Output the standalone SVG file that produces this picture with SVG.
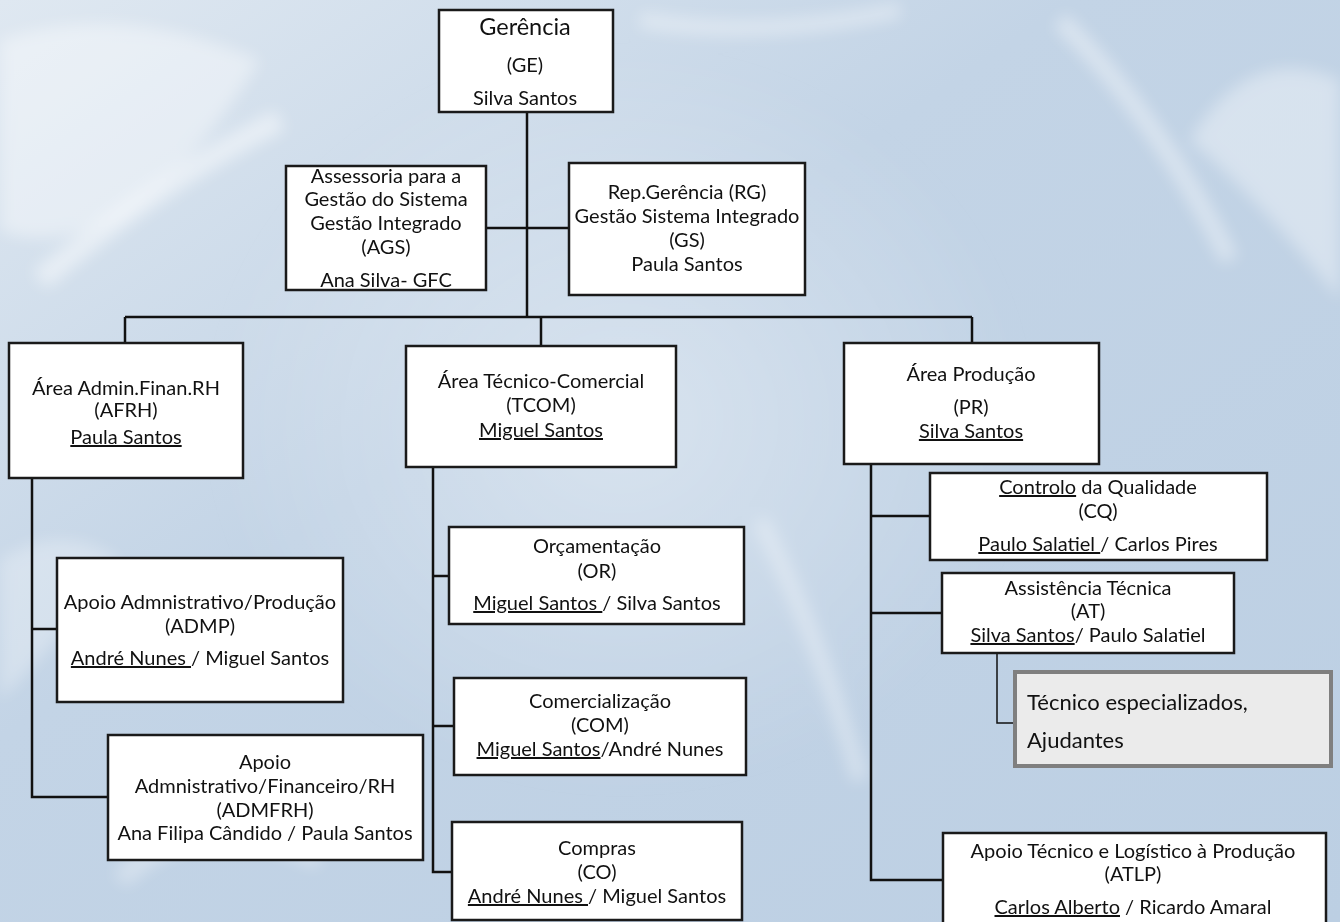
<svg xmlns="http://www.w3.org/2000/svg" width="1340" height="922" viewBox="0 0 1340 922">
<defs>
<linearGradient id="bg" x1="0" y1="0" x2="1" y2="1">
<stop offset="0" stop-color="#dfe8f1"/>
<stop offset="0.4" stop-color="#c3d4e6"/>
<stop offset="1" stop-color="#bccfe3"/>
</linearGradient>
<radialGradient id="glow" cx="0.5" cy="0.5" r="0.5">
<stop offset="0" stop-color="#ffffff" stop-opacity="0.45"/>
<stop offset="1" stop-color="#ffffff" stop-opacity="0"/>
</radialGradient>
<filter id="blur" x="-20%" y="-20%" width="140%" height="140%"><feGaussianBlur stdDeviation="8"/></filter>
<style>
.box{fill:#ffffff;stroke:#1a1a1a;stroke-width:2.5}
.gbox{fill:#ebebeb;stroke:#7f7f7f;stroke-width:4}
.conn line,.conn path,.conn polyline{stroke:#111;stroke-width:2.5;fill:none}
.conn .thin{stroke-width:1.5}
text{font-family:"Lato","Open Sans","Liberation Sans",sans-serif;font-size:20px;fill:#111;text-anchor:middle}
.big{font-size:23.5px}
.tech{font-size:22px;text-anchor:start}
.u{text-decoration:underline}
</style>
</defs>
<rect width="1340" height="922" fill="url(#bg)"/>
<g filter="url(#blur)" opacity="0.8">
<ellipse cx="620" cy="420" rx="420" ry="380" fill="url(#glow)"/>
<path d="M0 40 Q120 0 260 60 Q200 160 120 220 Q40 250 0 230Z" fill="#ffffff" opacity="0.5"/>
<path d="M40 280 Q160 180 280 120" stroke="#ffffff" stroke-width="22" fill="none" opacity="0.6"/>
<path d="M0 560 Q60 520 120 560 Q60 640 0 700Z" fill="#ffffff" opacity="0.35"/>
<path d="M1340 80 Q1250 40 1190 140 Q1260 200 1340 300Z" fill="#ffffff" opacity="0.45"/>
<path d="M1060 20 Q1160 120 1230 260" stroke="#ffffff" stroke-width="18" fill="none" opacity="0.5"/>
<path d="M640 20 Q760 40 900 10" stroke="#ffffff" stroke-width="14" fill="none" opacity="0.5"/>
<path d="M760 520 Q820 640 860 780" stroke="#ffffff" stroke-width="16" fill="none" opacity="0.45"/>
<path d="M120 880 Q200 800 320 860" stroke="#ffffff" stroke-width="20" fill="none" opacity="0.4"/>
</g>

<g id="connectors" class="conn">
<line x1="527" y1="113" x2="527" y2="318"/>
<line x1="486" y1="228" x2="569" y2="228"/>
<line x1="125" y1="317" x2="972" y2="317"/>
<line x1="125" y1="317" x2="125" y2="343"/>
<line x1="541" y1="317" x2="541" y2="345"/>
<line x1="972" y1="317" x2="972" y2="343"/>
<polyline points="32,478 32,797 108,797"/>
<line x1="32" y1="629" x2="57" y2="629"/>
<polyline points="433,466 433,872 452,872"/>
<line x1="433" y1="576" x2="449" y2="576"/>
<line x1="433" y1="726" x2="454" y2="726"/>
<polyline points="871,464 871,880 943,880"/>
<line x1="871" y1="516" x2="930" y2="516"/>
<line x1="871" y1="613" x2="942" y2="613"/>
<polyline class="thin" points="997,653 997,723 1014,723"/>
</g>

<g id="node-GE">
<rect class="box" x="439" y="10" width="174" height="102"/>
<text class="big" x="525" y="35">Gerência</text>
<text x="525" y="72">(GE)</text>
<text x="525" y="105">Silva Santos</text>
</g>

<g id="node-AGS">
<rect class="box" x="286" y="166" width="200" height="124"/>
<text x="386" y="183">Assessoria para a</text>
<text x="386" y="206">Gestão do Sistema</text>
<text x="386" y="230">Gestão Integrado</text>
<text x="386" y="254">(AGS)</text>
<text x="386" y="287">Ana Silva- GFC</text>
</g>

<g id="node-RG">
<rect class="box" x="569" y="163" width="236" height="132"/>
<text x="687" y="199">Rep.Gerência (RG)</text>
<text x="687" y="223">Gestão Sistema Integrado</text>
<text x="687" y="247">(GS)</text>
<text x="687" y="271">Paula Santos</text>
</g>

<g id="node-AFRH">
<rect class="box" x="9" y="343" width="234" height="135"/>
<text x="126" y="395">Área Admin.Finan.RH</text>
<text x="126" y="417">(AFRH)</text>
<text x="126" y="444"><tspan class="u">Paula Santos</tspan></text>
</g>

<g id="node-TCOM">
<rect class="box" x="406" y="346" width="270" height="121"/>
<text x="541" y="388">Área Técnico-Comercial</text>
<text x="541" y="412">(TCOM)</text>
<text x="541" y="437"><tspan class="u">Miguel Santos</tspan></text>
</g>

<g id="node-PR">
<rect class="box" x="844" y="343" width="255" height="121"/>
<text x="971" y="381">Área Produção</text>
<text x="971" y="414">(PR)</text>
<text x="971" y="438"><tspan class="u">Silva Santos</tspan></text>
</g>

<g id="node-ADMP">
<rect class="box" x="57" y="558" width="286" height="144"/>
<text x="200" y="609">Apoio Admnistrativo/Produção</text>
<text x="200" y="633">(ADMP)</text>
<text x="200" y="665"><tspan class="u">André Nunes </tspan>/ Miguel Santos</text>
</g>

<g id="node-ADMFRH">
<rect class="box" x="108" y="735" width="315" height="125"/>
<text x="265" y="769">Apoio</text>
<text x="265" y="793">Admnistrativo/Financeiro/RH</text>
<text x="265" y="817">(ADMFRH)</text>
<text x="265" y="840">Ana Filipa Cândido / Paula Santos</text>
</g>

<g id="node-OR">
<rect class="box" x="449" y="527" width="295" height="97"/>
<text x="597" y="553">Orçamentação</text>
<text x="597" y="578">(OR)</text>
<text x="597" y="610"><tspan class="u">Miguel Santos </tspan>/ Silva Santos</text>
</g>

<g id="node-COM">
<rect class="box" x="454" y="678" width="292" height="97"/>
<text x="600" y="708">Comercialização</text>
<text x="600" y="732">(COM)</text>
<text x="600" y="756"><tspan class="u">Miguel Santos</tspan>/André Nunes</text>
</g>

<g id="node-CO">
<rect class="box" x="452" y="822" width="290" height="98"/>
<text x="597" y="855">Compras</text>
<text x="597" y="879">(CO)</text>
<text x="597" y="903"><tspan class="u">André Nunes </tspan>/ Miguel  Santos</text>
</g>

<g id="node-CQ">
<rect class="box" x="930" y="473" width="337" height="87"/>
<text x="1098" y="494"><tspan class="u">Controlo</tspan> da Qualidade</text>
<text x="1098" y="518">(CQ)</text>
<text x="1098" y="551"><tspan class="u">Paulo Salatiel </tspan>/ Carlos Pires</text>
</g>

<g id="node-AT">
<rect class="box" x="942" y="573" width="292" height="80"/>
<text x="1088" y="595">Assistência Técnica</text>
<text x="1088" y="618">(AT)</text>
<text x="1088" y="642"><tspan class="u">Silva Santos</tspan>/ Paulo Salatiel</text>
</g>

<g id="node-TEC">
<rect class="gbox" x="1015" y="672" width="316" height="94"/>
<text class="tech" x="1027" y="710">Técnico especializados,</text>
<text class="tech" x="1027" y="748">Ajudantes</text>
</g>

<g id="node-ATLP">
<rect class="box" x="943" y="833" width="383" height="100"/>
<text x="1133" y="858">Apoio Técnico e Logístico à Produção</text>
<text x="1133" y="881">(ATLP)</text>
<text x="1133" y="914"><tspan class="u">Carlos Alberto</tspan> / Ricardo Amaral</text>
</g>
</svg>
